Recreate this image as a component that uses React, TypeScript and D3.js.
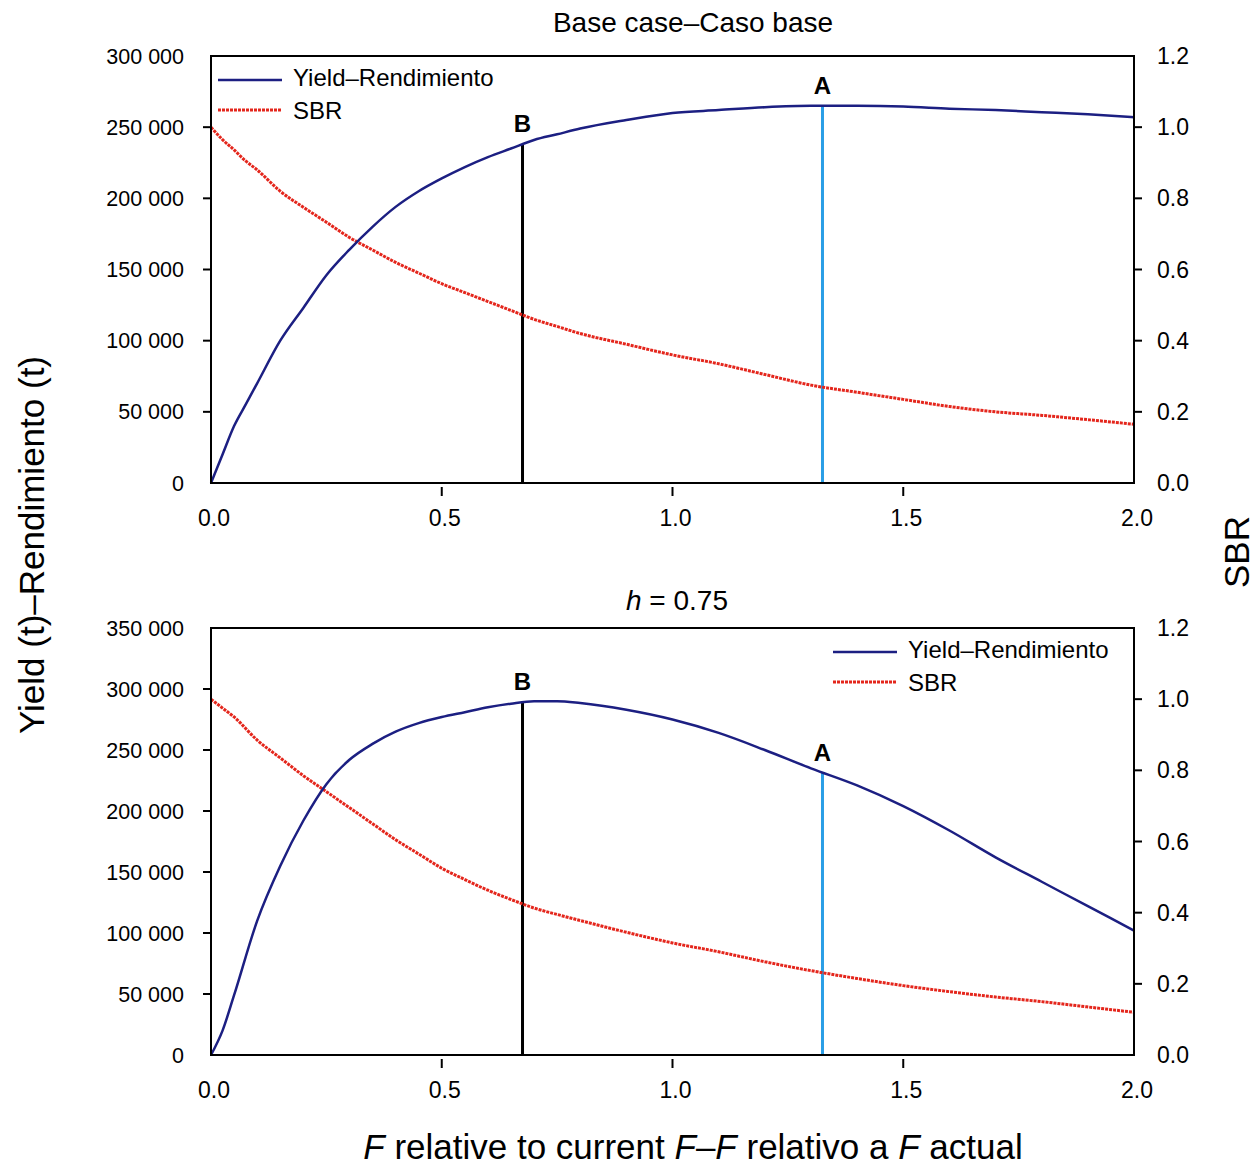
import React from 'react'
import * as d3 from 'd3'

// F relative to current F
const fTop = [0, 0.025, 0.05, 0.075, 0.1, 0.15, 0.2, 0.25, 0.3, 0.35, 0.4, 0.45, 0.5, 0.55, 0.6, 0.65, 0.7, 0.75, 0.8, 0.9, 1.0, 1.1, 1.2, 1.3, 1.4, 1.5, 1.6, 1.7, 1.8, 1.9, 2.0]
const yieldTop = [0, 20000, 40000, 55000, 70000, 100000, 123000, 146000, 164000, 180000, 194000, 205000, 214000, 222000, 229000, 235000, 241000, 245000, 249000, 255000, 260000, 262000, 264000, 265000, 265000, 264500, 263000, 262000, 260500, 259000, 257000]
const sbrTop = [1.0, 0.965, 0.936, 0.905, 0.88, 0.82, 0.775, 0.733, 0.69, 0.655, 0.62, 0.59, 0.56, 0.535, 0.51, 0.485, 0.46, 0.44, 0.42, 0.39, 0.36, 0.335, 0.305, 0.275, 0.255, 0.235, 0.215, 0.2, 0.19, 0.178, 0.165]

const fBot = [0, 0.025, 0.05, 0.1, 0.15, 0.2, 0.25, 0.3, 0.35, 0.4, 0.45, 0.5, 0.55, 0.6, 0.65, 0.7, 0.75, 0.8, 0.9, 1.0, 1.1, 1.2, 1.3, 1.4, 1.5, 1.6, 1.7, 1.8, 1.9, 2.0]
const yieldBot = [0, 20000, 49000, 110000, 155000, 192000, 222000, 242000, 255000, 265000, 272000, 277000, 281000, 285000, 288000, 290000, 290000, 288500, 283000, 275000, 264000, 250000, 235000, 221000, 204000, 184000, 162000, 142000, 122000, 102000]
const sbrBot = [1.0, 0.975, 0.95, 0.885, 0.835, 0.785, 0.74, 0.695, 0.65, 0.605, 0.565, 0.525, 0.493, 0.463, 0.437, 0.413, 0.395, 0.378, 0.345, 0.315, 0.29, 0.262, 0.237, 0.215, 0.195, 0.178, 0.163, 0.15, 0.135, 0.12]

const xTicks = [0, 0.5, 1.0, 1.5, 2.0]
const sbrTicks = [0, 0.2, 0.4, 0.6, 0.8, 1.0, 1.2]
const yieldTicksTop = [0, 50000, 100000, 150000, 200000, 250000, 300000]
const yieldTicksBot = [0, 50000, 100000, 150000, 200000, 250000, 300000, 350000]

const pointB = 0.675
const pointA = 1.325

const FONT = '"Liberation Sans", Arial, sans-serif'
const BLUE = '#1c1f82'
const RED = '#e4261c'
const LIGHTBLUE = '#2a9ee6'

const fmtK = (v: number) => (v === 0 ? '0' : d3.format(',')(v).replace(/,/g, ' '))

function Panel({ top, f, yld, sbr, yMax, yTicks, title, legendX }: any) {
  const left = 211, right = 1134, height = 427
  const x = d3.scaleLinear().domain([0, 2]).range([left, right])
  const y = d3.scaleLinear().domain([0, yMax]).range([top + height, top])
  const y2 = d3.scaleLinear().domain([0, 1.2]).range([top + height, top])
  const bottom = top + height

  const yieldLine = d3.line<number>().x((d, i) => x(f[i])).y(d => y(d)).curve(d3.curveMonotoneX)
  const sbrLine = d3.line<number>().x((d, i) => x(f[i])).y(d => y2(d)).curve(d3.curveMonotoneX)
  const interp = (v: number) => {
    const i = d3.bisectLeft(f, v)
    const t = (v - f[i - 1]) / (f[i] - f[i - 1])
    return yld[i - 1] + t * (yld[i] - yld[i - 1])
  }
  const yB = interp(pointB), yA = interp(pointA)

  return (
    <g fontFamily={FONT}>
      {title}
      {/* vertical markers */}
      <line x1={x(pointB)} x2={x(pointB)} y1={bottom} y2={y(yB)} stroke="#000" strokeWidth={3} />
      <line x1={x(pointA)} x2={x(pointA)} y1={bottom} y2={y(yA)} stroke={LIGHTBLUE} strokeWidth={3} />
      <text x={x(pointB)} y={y(yB) - 12} textAnchor="middle" fontSize={24} fontWeight="bold">B</text>
      <text x={x(pointA)} y={y(yA) - 12} textAnchor="middle" fontSize={24} fontWeight="bold">A</text>

      <path d={sbrLine(sbr) || ''} fill="none" stroke={RED} strokeWidth={3} strokeDasharray="3,1" />
      <path d={yieldLine(yld) || ''} fill="none" stroke={BLUE} strokeWidth={2.5} />

      <rect x={left} y={top} width={right - left} height={height} fill="none" stroke="#000" strokeWidth={2} />

      {/* left axis */}
      {yTicks.map((t: number) => (
        <g key={'l' + t}>
          {t > 0 && t < yMax && <line x1={left - 8} x2={left} y1={y(t)} y2={y(t)} stroke="#000" strokeWidth={2} />}
          <text x={184} y={y(t)} dy="0.35em" textAnchor="end" fontSize={21.5}>{fmtK(t)}</text>
        </g>
      ))}
      {/* right axis */}
      {sbrTicks.map(t => (
        <g key={'r' + t}>
          {t > 0 && t < 1.2 && <line x1={right} x2={right + 8} y1={y2(t)} y2={y2(t)} stroke="#000" strokeWidth={2} />}
          <text x={1157} y={y2(t)} dy="0.35em" textAnchor="start" fontSize={23}>{t.toFixed(1)}</text>
        </g>
      ))}
      {/* bottom axis */}
      {xTicks.map(t => (
        <g key={'b' + t}>
          {t > 0 && t < 2 && <line x1={x(t)} x2={x(t)} y1={bottom + 4} y2={bottom + 13} stroke="#000" strokeWidth={2} />}
          <text x={x(t) + 3} y={bottom + 35} dy="0.35em" textAnchor="middle" fontSize={23}>{t.toFixed(1)}</text>
        </g>
      ))}

      {/* legend */}
      <line x1={legendX} x2={legendX + 64} y1={top + 24} y2={top + 24} stroke={BLUE} strokeWidth={2.5} />
      <text x={legendX + 75} y={top + 22} dy="0.35em" fontSize={24}>Yield–Rendimiento</text>
      <line x1={legendX} x2={legendX + 64} y1={top + 54} y2={top + 54} stroke={RED} strokeWidth={3} strokeDasharray="3,1" />
      <text x={legendX + 75} y={top + 55} dy="0.35em" fontSize={24}>SBR</text>
    </g>
  )
}

export default function App() {
  return (
    <svg width={1257} height={1166} style={{ position: 'absolute', left: 0, top: 0, background: '#fff' }}>
      <Panel
        top={56} f={fTop} yld={yieldTop} sbr={sbrTop} yMax={300000} yTicks={yieldTicksTop} legendX={218}
        title={<text x={693} y={22} dy="0.35em" textAnchor="middle" fontSize={28}>Base case–Caso base</text>}
      />
      <Panel
        top={628} f={fBot} yld={yieldBot} sbr={sbrBot} yMax={350000} yTicks={yieldTicksBot} legendX={833}
        title={<text x={677} y={600} dy="0.35em" textAnchor="middle" fontSize={28}><tspan fontStyle="italic">h</tspan> = 0.75</text>}
      />
      <g fontFamily={FONT}>
        <text transform="translate(32,545) rotate(-90)" dy="0.35em" textAnchor="middle" fontSize={35}>Yield (t)–Rendimiento (t)</text>
        <text transform="translate(1237,552) rotate(-90)" dy="0.35em" textAnchor="middle" fontSize={35}>SBR</text>
        <text x={693} y={1147} dy="0.35em" textAnchor="middle" fontSize={35}>
          <tspan fontStyle="italic">F</tspan> relative to current <tspan fontStyle="italic">F</tspan>–<tspan fontStyle="italic">F</tspan> relativo a <tspan fontStyle="italic">F</tspan> actual
        </text>
      </g>
    </svg>
  )
}
